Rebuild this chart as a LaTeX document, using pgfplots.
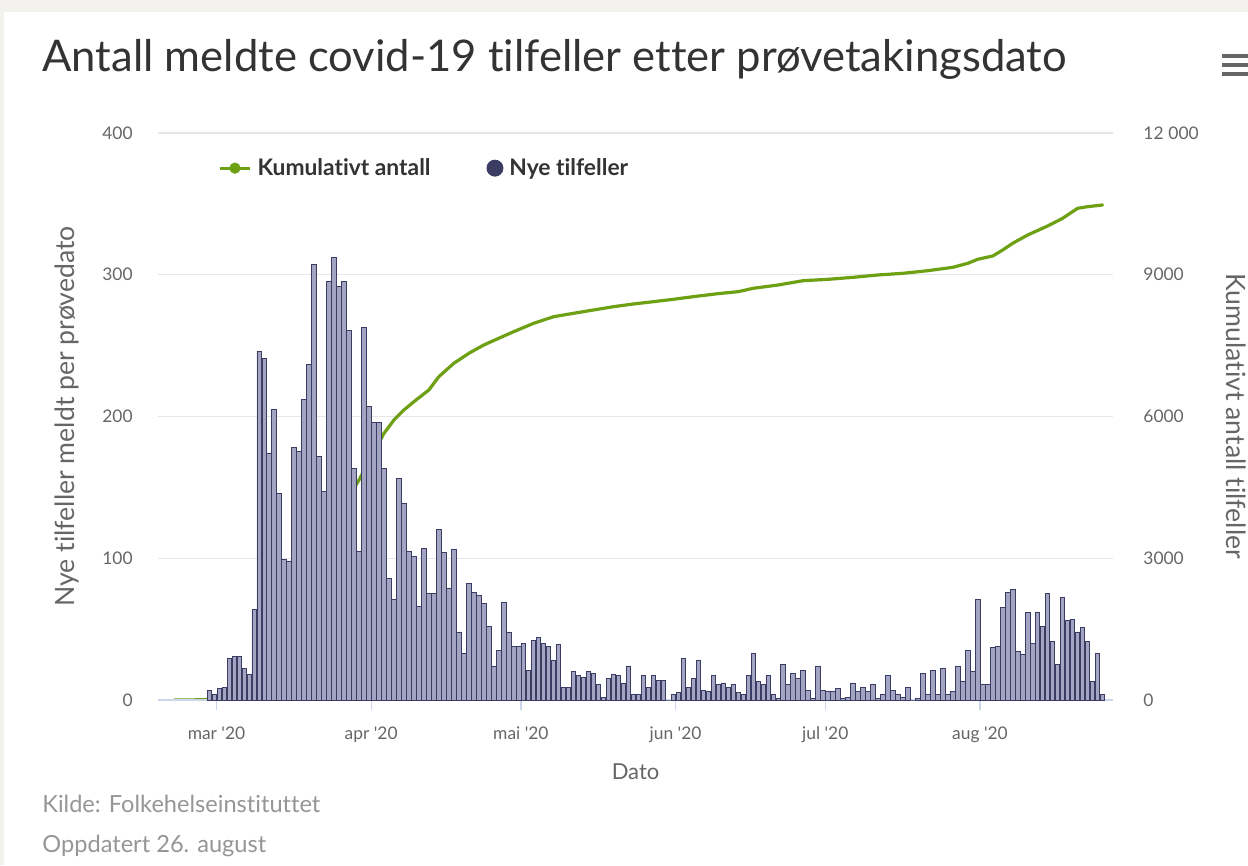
\documentclass[border=0pt]{standalone}
\usepackage{fontspec}
\setmainfont{Lato}[Ligatures=NoCommon]
\usepackage{pgfplots}
\pgfplotsset{compat=1.18}

\definecolor{bgcol}{RGB}{243,242,238}
\definecolor{titlecol}{RGB}{51,51,51}
\definecolor{axistext}{RGB}{102,102,102}
\definecolor{footcol}{RGB}{150,150,150}
\definecolor{gridcol}{RGB}{230,230,230}
\definecolor{xlinecol}{RGB}{204,214,235}
\definecolor{cumcol}{RGB}{110,160,20}
\definecolor{bardark}{RGB}{58,60,100}
\definecolor{barlight}{RGB}{162,164,194}

\begin{document}
\begin{tikzpicture}[x=0.5bp,y=0.5bp]
% coordinates in reference pixels, y counted from the bottom (865 high)
\useasboundingbox (0,0) rectangle (1248,865);
\fill[bgcol] (0,0) rectangle (1248,865);
\fill[white] (4,0) rectangle (1248,853);

% title, footer, menu icon
\node[anchor=base west, inner sep=0pt, text=titlecol, font=\fontsize{21.8bp}{26bp}\selectfont]
  at (42,793) {Antall meldte covid-19 tilfeller etter prøvetakingsdato};
\node[anchor=base west, inner sep=0pt, text=footcol, font=\fontsize{11.8bp}{13bp}\selectfont]
  at (42,53) {Kilde: Folkehelseinstituttet};
\node[anchor=base west, inner sep=0pt, text=footcol, font=\fontsize{11.8bp}{13bp}\selectfont]
  at (42,13) {Oppdatert 26. august};
\foreach \yy in {809,800,791} \draw[axistext, line width=2bp] (1222,\yy) -- (1248,\yy);

% cumulative count, right axis (drawn first, so bars sit on top)
\begin{axis}[
  at={(79bp,82.5bp)}, anchor=south west,
  scale only axis, width=477.5bp, height=283.5bp,
  xmin=-11.28, xmax=180.1,
  ymin=0, ymax=12000,
  hide x axis,
  axis y line*=right,
  separate axis lines,
  y axis line style={draw=none},
  ytick={0,3000,6000,9000,12000},
  yticklabels={0,3000,6000,9000,12\;000},
  scaled y ticks=false,
  major tick length=0pt,
  ymajorgrids, grid style={gridcol, line width=0.6bp},
  yticklabel style={anchor=west, inner sep=0pt, xshift=15bp,
    font=\fontsize{8.7bp}{10bp}\selectfont, text=axistext},
  ylabel={Kumulativt antall tilfeller},
  ylabel style={at={(axis description cs:1.1288,0.5)}, anchor=center, rotate=180,
    font=\fontsize{13.3bp}{15bp}\selectfont, text=axistext},
]
\addplot[draw=cumcol, line width=1.6bp, line join=round, line cap=round] coordinates {
  (-8,1)(-7,1)(-6,2)(-5,2)(-4,3)(-3,4)(-2,6)(-1,13)(0,17)(1,25)(2,34)
  (3,63)(4,94)(5,125)(6,147)(7,165)(8,229)(9,475)(10,716)(11,890)(12,1095)
  (13,1241)(14,1340)(15,1438)(16,1616)(17,1791)(18,2003)(19,2240)(20,2547)
  (21,2719)(22,2866)(23,3161)(24,3473)(25,3765)(26,4060)(27,4321)(28,4484)
  (29,4656)(34,5644)(36,5926)(38,6138)(40,6313)(43,6561)(45,6843)(48,7126)
  (51,7337)(54,7513)(57,7655)(60,7795)(64,7972)(68,8112)(72,8184)(76,8254)
  (80,8324)(84,8381)(88,8430)(92,8480)(96,8536)(101,8600)(105,8642)(108,8713)
  (113,8783)(118,8874)(123,8903)(128,8945)(133,8995)(138,9030)(143,9086)
  (148,9157)(151,9242)(153,9327)(156,9397)(158,9524)(160,9666)(163,9841)
  (167,10032)(170,10194)(173,10406)(175,10440)(178,10476)
};
\end{axis}

% new cases, left axis
\begin{axis}[
  at={(79bp,82.5bp)}, anchor=south west,
  scale only axis, width=477.5bp, height=283.5bp,
  xmin=-11.28, xmax=180.1,
  ymin=0, ymax=400,
  axis x line*=bottom, axis y line*=left,
  separate axis lines,
  x axis line style={draw=xlinecol, line width=0.6bp},
  y axis line style={draw=none},
  ytick={0,100,200,300,400},
  yticklabels={0,100,200,300,400},
  ytick style={draw=none},
  xtick={0.44,31.44,61.44,92.44,122.44,153.44},
  xticklabels={mar \textquotesingle20,apr \textquotesingle20,mai \textquotesingle20,
    jun \textquotesingle20,jul \textquotesingle20,aug \textquotesingle20},
  xtick style={draw=xlinecol, line width=0.6bp},
  tick align=outside, major tick length=5bp,
  yticklabel style={anchor=east, inner sep=0pt, xshift=-7.5bp,
    font=\fontsize{8.7bp}{10bp}\selectfont, text=axistext},
  xticklabel style={anchor=north, inner sep=0pt, yshift=-8bp,
    font=\fontsize{8.7bp}{10bp}\selectfont, text=axistext},
  xlabel={Dato},
  xlabel style={at={(axis description cs:0.5,-0.127)}, anchor=center,
    font=\fontsize{11bp}{13bp}\selectfont, text=axistext},
  ylabel={Nye tilfeller meldt per prøvedato},
  ylabel style={at={(axis description cs:-0.0953,0.5)}, anchor=center,
    font=\fontsize{13.3bp}{15bp}\selectfont, text=axistext},
  legend columns=2,
  legend style={at={(axis description cs:0.0628,0.938)}, anchor=west,
    draw=none, fill=none, inner sep=0pt,
    font=\fontsize{11.4bp}{13bp}\selectfont\bfseries, text=titlecol,
    nodes={inner xsep=3bp},
    /tikz/every even column/.append style={column sep=25bp}},
]
\addlegendimage{legend image code/.code={
  \draw[cumcol, line width=1.6bp] (0bp,0bp) -- (15bp,0bp);
  \fill[cumcol] (7.5bp,0bp) circle (2.6bp);}}
\addlegendentry{Kumulativt antall}
\addplot[ybar, bar width=0.9, bar shift=0pt, fill=barlight, draw=bardark, line width=0.45bp,
  legend image code/.code={\fill[bardark] (4bp,0bp) circle (4bp);}] coordinates {
  (-1,7)(0,4)(1,8)(2,9)(3,29)(4,31)(5,31)(6,22)(7,18)(8,64)
  (9,246)(10,241)(11,174)(12,205)(13,146)(14,99)(15,98)(16,178)(17,175)(18,212)
  (19,237)(20,307)(21,172)(22,147)(23,295)(24,312)(25,292)(26,295)(27,261)(28,163)
  (29,105)(30,263)(31,207)(32,196)(33,196)(34,163)(35,86)(36,71)(37,156)(38,139)
  (39,105)(40,101)(41,66)(42,107)(43,75)(44,75)(45,120)(46,104)(47,79)(48,106)
  (49,48)(50,33)(51,82)(52,76)(53,74)(54,68)(55,52)(56,24)(57,35)(58,69)
  (59,48)(60,38)(61,38)(62,40)(63,21)(64,42)(65,44)(66,40)(67,38)(68,28)
  (69,39)(70,9)(71,9)(72,20)(73,17)(74,16)(75,20)(76,19)(77,11)(78,2)
  (79,15)(80,18)(81,17)(82,12)(83,24)(84,4)(85,4)(86,17)(87,9)(88,17)
  (89,14)(90,14)(91,0)(92,4)(93,5)(94,29)(95,9)(96,15)(97,28)(98,7)
  (99,6)(100,17)(101,11)(102,12)(103,9)(104,11)(105,5)(106,4)(107,17)(108,33)
  (109,13)(110,11)(111,17)(112,4)(113,1)(114,25)(115,11)(116,19)(117,15)(118,21)
  (119,7)(120,1)(121,24)(122,7)(123,6)(124,6)(125,8)(126,1)(127,2)(128,12)
  (129,6)(130,9)(131,6)(132,11)(133,1)(134,4)(135,17)(136,7)(137,4)(138,2)
  (139,9)(140,0)(141,1)(142,19)(143,4)(144,21)(145,4)(146,22)(147,4)(148,6)
  (149,24)(150,13)(151,35)(152,20)(153,71)(154,11)(155,11)(156,37)(157,38)(158,65)
  (159,76)(160,78)(161,34)(162,32)(163,62)(164,40)(165,62)(166,52)(167,75)(168,41)
  (169,25)(170,72)(171,56)(172,57)(173,48)(174,51)(175,41)(176,13)(177,33)(178,4)
};
\addlegendentry{Nye tilfeller}
\end{axis}
\end{tikzpicture}
\end{document}
